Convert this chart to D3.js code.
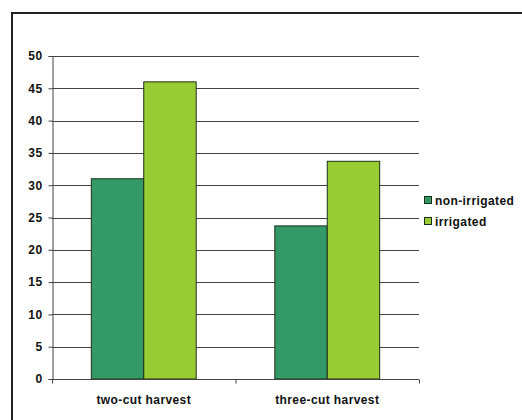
<!DOCTYPE html>
<html>
<head>
<meta charset="utf-8">
<script src="https://cdn.jsdelivr.net/npm/d3@7"></script>
<style>
  html, body { margin: 0; padding: 0; background: #fff; }
  svg { display: block; font-family: "Liberation Sans", Arial, sans-serif; }
  .lbl { font-size: 12px; font-weight: bold; letter-spacing: 0.4px; fill: #111; }
</style>
</head>
<body>
<svg id="chart" width="522" height="420"></svg>
<script>
// Harvest yields by cutting regime and irrigation
const categories = ["two-cut harvest", "three-cut harvest"];
const seriesNames = ["non-irrigated", "irrigated"];
const nonIrrigated = [31.0, 23.7];
const irrigated = [46.0, 33.7];
const yTicks = [0, 5, 10, 15, 20, 25, 30, 35, 40, 45, 50];
const seriesColors = ["#339966", "#99cc33"];

const svg = d3.select("#chart");

// outer frame
svg.append("rect")
  .attr("x", 12).attr("y", 13)
  .attr("width", 530).attr("height", 430)
  .attr("fill", "none")
  .attr("stroke", "#222")
  .attr("stroke-width", 2);

const plot = { left: 52, right: 419, top: 56, bottom: 379 };

const x = d3.scaleBand()
  .domain(categories)
  .range([plot.left, plot.right])
  .padding(0);

// two bars side by side in the middle of each category band
const xs = d3.scaleBand()
  .domain(seriesNames)
  .range([0, x.bandwidth()])
  .paddingInner(0)
  .paddingOuter(0.75);

const y = d3.scaleLinear().domain([0, 50]).range([plot.bottom, plot.top]);

// gridlines
svg.append("g")
  .selectAll("line")
  .data(yTicks.filter(d => d > 0))
  .join("line")
  .attr("x1", plot.left).attr("x2", plot.right)
  .attr("y1", d => Math.round(y(d)) + 0.5)
  .attr("y2", d => Math.round(y(d)) + 0.5)
  .attr("stroke", "#444")
  .attr("stroke-width", 1);

// bars
const rows = categories.map((c, i) => ({ cat: c, values: [nonIrrigated[i], irrigated[i]] }));
const groups = svg.append("g")
  .selectAll("g")
  .data(rows)
  .join("g")
  .attr("transform", d => `translate(${x(d.cat)},0)`);

groups.selectAll("rect")
  .data(d => d.values.map((v, j) => ({ name: seriesNames[j], value: v, j })))
  .join("rect")
  .attr("x", d => xs(d.name))
  .attr("width", xs.bandwidth())
  .attr("y", d => y(d.value))
  .attr("height", d => y(0) - y(d.value))
  .attr("fill", d => seriesColors[d.j])
  .attr("stroke", "#1c2e1c")
  .attr("stroke-width", 1);

// y axis
const yAxis = d3.axisLeft(y)
  .tickValues(yTicks)
  .tickSize(4)
  .tickPadding(6)
  .tickFormat(d3.format("d"));
const gy = svg.append("g")
  .attr("transform", `translate(${plot.left + 0.5},0)`)
  .call(yAxis);
gy.select(".domain").attr("stroke", "#444");
gy.selectAll(".tick line").attr("stroke", "#444");
gy.selectAll(".tick text")
  .attr("class", "lbl")
  .attr("fill", null)
  .attr("font-size", null)
  .attr("font-family", null);

// x axis
const gx = svg.append("g")
  .attr("transform", `translate(0,${plot.bottom + 0.5})`);
gx.append("line")
  .attr("x1", plot.left).attr("x2", plot.right)
  .attr("stroke", "#444");
gx.selectAll("line.sep")
  .data([plot.left, x(categories[1]), plot.right])
  .join("line")
  .attr("class", "sep")
  .attr("x1", d => d + 0.5).attr("x2", d => d + 0.5)
  .attr("y1", 0).attr("y2", 4)
  .attr("stroke", "#444");
gx.selectAll("text")
  .data(categories)
  .join("text")
  .attr("class", "lbl")
  .attr("x", d => x(d) + x.bandwidth() / 2)
  .attr("y", 24)
  .attr("text-anchor", "middle")
  .text(d => d);

// legend
const legend = svg.append("g").attr("transform", "translate(424,0)");
const li = legend.selectAll("g")
  .data(seriesNames)
  .join("g")
  .attr("transform", (d, i) => `translate(0,${200 + i * 21})`);
li.append("rect")
  .attr("x", 0.5).attr("y", -3.5)
  .attr("width", 7).attr("height", 7)
  .attr("fill", (d, i) => seriesColors[i])
  .attr("stroke", "#1c2e1c");
li.append("text")
  .attr("class", "lbl")
  .attr("x", 11)
  .attr("y", 4.5)
  .text(d => d);
</script>
</body>
</html>
